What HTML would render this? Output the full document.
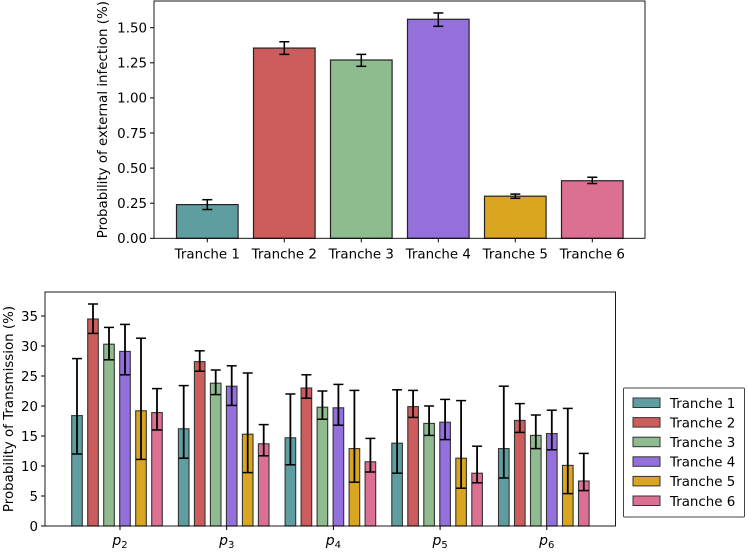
<!DOCTYPE html>
<html><head><meta charset="utf-8"><style>
body{margin:0;background:#fff}
svg{font-family:"DejaVu Sans","Liberation Sans",sans-serif}
</style></head><body>
<svg id="s" width="747" height="548" xmlns="http://www.w3.org/2000/svg"></svg>
<script>
const tranches=["Tranche 1","Tranche 2","Tranche 3","Tranche 4","Tranche 5","Tranche 6"];
const colors=["#5f9ea0","#cd5c5c","#8fbc8f","#9370db","#daa520","#db7093"];
const extVals=[0.24,1.355,1.27,1.56,0.30,0.41];
const extLo=[0.205,1.31,1.225,1.51,0.285,0.39];
const extHi=[0.275,1.40,1.31,1.605,0.315,0.435];
const extTicks=[0,0.25,0.5,0.75,1.0,1.25,1.5];
const params=["2","3","4","5","6"];
const trVals=[[18.4,16.2,14.7,13.8,12.9],[34.5,27.4,23.0,19.9,17.6],[30.3,23.8,19.8,17.1,15.1],[29.1,23.3,19.7,17.3,15.4],[19.2,15.3,12.9,11.3,10.1],[18.9,13.7,10.7,8.8,7.5]];
const trLo=[[12.0,11.3,10.2,8.8,8.0],[32.1,25.8,21.3,18.1,15.6],[27.7,21.9,17.8,15.1,12.9],[25.2,20.1,16.8,14.4,12.7],[11.1,8.9,7.3,6.3,5.4],[16.0,11.7,9.0,7.2,5.9]];
const trHi=[[27.9,23.4,22.0,22.7,23.3],[37.0,29.2,25.2,22.6,20.4],[33.1,26.0,22.5,20.0,18.5],[33.6,26.7,23.6,21.1,19.3],[31.3,25.5,22.6,20.9,19.6],[22.9,16.9,14.6,13.3,12.1]];
const trTicks=[0,5,10,15,20,25,30,35];
const S=document.getElementById('s');const NS="http://www.w3.org/2000/svg";
const FS=13.4;
function mk(t,a,p){const e=document.createElementNS(NS,t);for(const k in a)e.setAttribute(k,a[k]);(p||S).appendChild(e);return e;}
// top chart
const t={l:154,r:645,t:1,b:238.3};
const ty=v=>t.b-v*140.4, tx=i=>207.3+i*77;
let g1=mk('g',{});
extTicks.forEach(v=>{mk('line',{x1:t.l-4,x2:t.l,y1:ty(v),y2:ty(v),stroke:'#000'},g1);let e=mk('text',{x:t.l-7,y:ty(v)+4.8,'text-anchor':'end','font-size':FS},g1);e.textContent=v.toFixed(2);});
tranches.forEach((n,i)=>{let b=mk('rect',{x:tx(i)-30.8,y:ty(extVals[i]),width:61.6,height:ty(0)-ty(extVals[i]),fill:colors[i],stroke:'#222','stroke-width':1.2},g1);
mk('line',{x1:tx(i),x2:tx(i),y1:ty(extLo[i]),y2:ty(extHi[i]),stroke:'#000','stroke-width':1.5},g1);
[extLo[i],extHi[i]].forEach(v=>mk('line',{x1:tx(i)-5,x2:tx(i)+5,y1:ty(v),y2:ty(v),stroke:'#000','stroke-width':1.5},g1));
mk('line',{x1:tx(i),x2:tx(i),y1:t.b,y2:t.b+4,stroke:'#000'},g1);
let e=mk('text',{x:tx(i),y:t.b+20,'text-anchor':'middle','font-size':FS},g1);e.textContent=n;});
mk('rect',{x:t.l,y:t.t,width:t.r-t.l,height:t.b-t.t,fill:'none',stroke:'#000','stroke-width':0.9},g1);
let yt=mk('text',{x:0,y:0,'text-anchor':'middle','font-size':FS,transform:`translate(107,${(t.t+t.b)/2}) rotate(-90)`},g1);yt.textContent="Probability of external infection (%)";
// bottom chart
const b={l:45,r:615.5,t:292,b:526};
const by=v=>b.b-v*6, bx=(j,i)=>120+j*106.7-43+i*16;
let g2=mk('g',{});
trTicks.forEach(v=>{mk('line',{x1:b.l-4,x2:b.l,y1:by(v),y2:by(v),stroke:'#000'},g2);let e=mk('text',{x:b.l-7,y:by(v)+4.8,'text-anchor':'end','font-size':FS},g2);e.textContent=v;});
tranches.forEach((n,i)=>params.forEach((p,j)=>{const x=bx(j,i),v=trVals[i][j];
let r=mk('rect',{x:x-5.3,y:by(v),width:10.6,height:by(0)-by(v),fill:colors[i],stroke:'#333','stroke-width':1.1},g2);
mk('line',{x1:x,x2:x,y1:by(trLo[i][j]),y2:by(trHi[i][j]),stroke:'#000','stroke-width':1.8},g2);
[trLo[i][j],trHi[i][j]].forEach(w=>mk('line',{x1:x-5,x2:x+5,y1:by(w),y2:by(w),stroke:'#000','stroke-width':1.5},g2));}));
params.forEach((p,j)=>{const x=120+j*106.7;mk('line',{x1:x,x2:x,y1:b.b,y2:b.b+4,stroke:'#000'},g2);
let e=mk('text',{x:x,y:b.b+19,'text-anchor':'middle','font-size':14,'font-style':'italic'},g2);e.innerHTML='p<tspan font-size="10" dy="3" font-style="normal">'+p+'</tspan>';});
mk('rect',{x:b.l,y:b.t,width:b.r-b.l,height:b.b-b.t,fill:'none',stroke:'#000','stroke-width':0.9},g2);
let yt2=mk('text',{x:0,y:0,'text-anchor':'middle','font-size':FS,transform:`translate(13,${(b.t+b.b)/2}) rotate(-90)`},g2);yt2.textContent="Probability of Transmission (%)";
// legend
let lg=mk('g',{});
mk('rect',{x:623.5,y:388,width:121,height:129,fill:'#fff',stroke:'#444','stroke-width':1,rx:1},lg);
tranches.forEach((n,i)=>{const y=403+i*19.6;let g=mk('g',{},lg);
mk('rect',{x:633,y:y-5,width:27,height:9.5,fill:colors[i],stroke:'#333','stroke-width':1},g);
let e=mk('text',{x:670,y:y+4.8,'font-size':FS},g);e.textContent=n;});
</script>
</body></html>
